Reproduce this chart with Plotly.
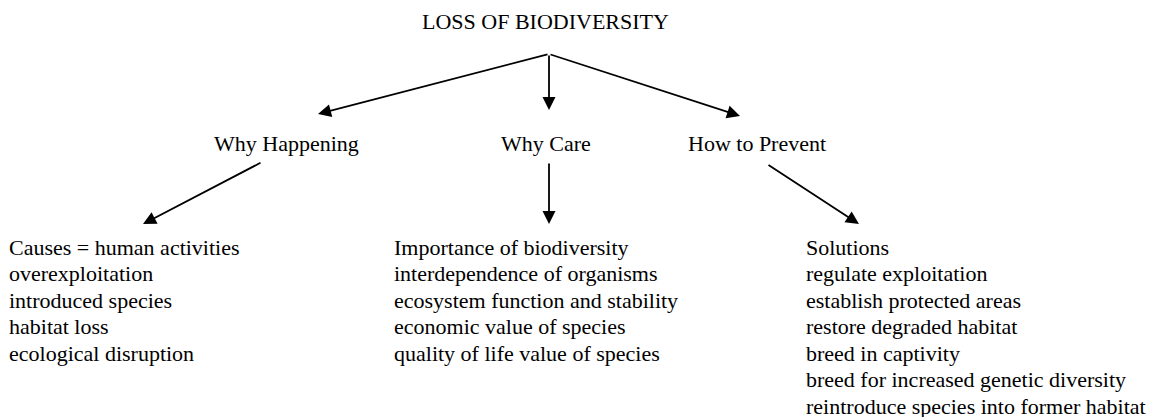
import plotly.graph_objects as go

# ---- content ----
title = "LOSS OF BIODIVERSITY"
branch_labels = ["Why Happening", "Why Care", "How to Prevent"]
why_happening = ["Causes = human activities", "overexploitation", "introduced species",
                 "habitat loss", "ecological disruption"]
why_care = ["Importance of biodiversity", "interdependence of organisms",
            "ecosystem function and stability", "economic value of species",
            "quality of life value of species"]
how_prevent = ["Solutions", "regulate exploitation", "establish protected areas",
               "restore degraded habitat", "breed in captivity",
               "breed for increased genetic diversity",
               "reintroduce species into former habitat"]

# ---- layout geometry (screen pixel coordinates) ----
W, H = 1157, 417
OFF = 8  # page body margin
FONT = dict(family="Liberation Serif, Times New Roman, serif", size=22, color="black")
title_pos = (545, 21)
apex = (549, 54)
branch_centers = [(286, 143), (546, 143), (757, 143)]
branch_tips = [(318, 114), (549, 110), (740, 116)]
sub_starts = [(262, 162), (549, 162), (767, 164)]
sub_tips = [(143, 224), (549, 224), (859, 224)]
col_x = [9, 394, 806]
line_y0, line_dy = 247, 26.5

fig = go.Figure()
fig.add_trace(go.Scatter(x=[OFF, W], y=[OFF, H], mode="markers",
                         marker=dict(opacity=0), hoverinfo="skip", showlegend=False))

TXT = dict(showarrow=False, font=FONT, borderpad=0, borderwidth=0)

ann = []
ann.append(dict(x=title_pos[0], y=title_pos[1], text=title,
                xanchor="center", yanchor="middle", **TXT))
for lab, (cx, cy) in zip(branch_labels, branch_centers):
    ann.append(dict(x=cx, y=cy, text=lab, xanchor="center", yanchor="middle", **TXT))

def arrow(tail, tip):
    return dict(x=tip[0], y=tip[1], ax=tail[0], ay=tail[1], xref="x", yref="y",
                axref="x", ayref="y", text="", showarrow=True, arrowhead=2,
                arrowsize=1.45, arrowwidth=1.8, arrowcolor="black", standoff=0,
                startstandoff=0)

for tip in branch_tips:
    ann.append(arrow(apex, tip))
for s, t in zip(sub_starts, sub_tips):
    ann.append(arrow(s, t))

for x0, items in zip(col_x, [why_happening, why_care, how_prevent]):
    for i, txt in enumerate(items):
        ann.append(dict(x=x0, y=line_y0 + i * line_dy, text=txt,
                        xanchor="left", yanchor="middle", **TXT))

fig.update_layout(
    width=W, height=H, margin=dict(l=0, r=0, t=0, b=0),
    paper_bgcolor="white", plot_bgcolor="white",
    xaxis=dict(range=[OFF, W + OFF], visible=False, fixedrange=True),
    yaxis=dict(range=[H + OFF, OFF], visible=False, fixedrange=True),
    annotations=ann, showlegend=False,
)
fig.write_html("out.html")
